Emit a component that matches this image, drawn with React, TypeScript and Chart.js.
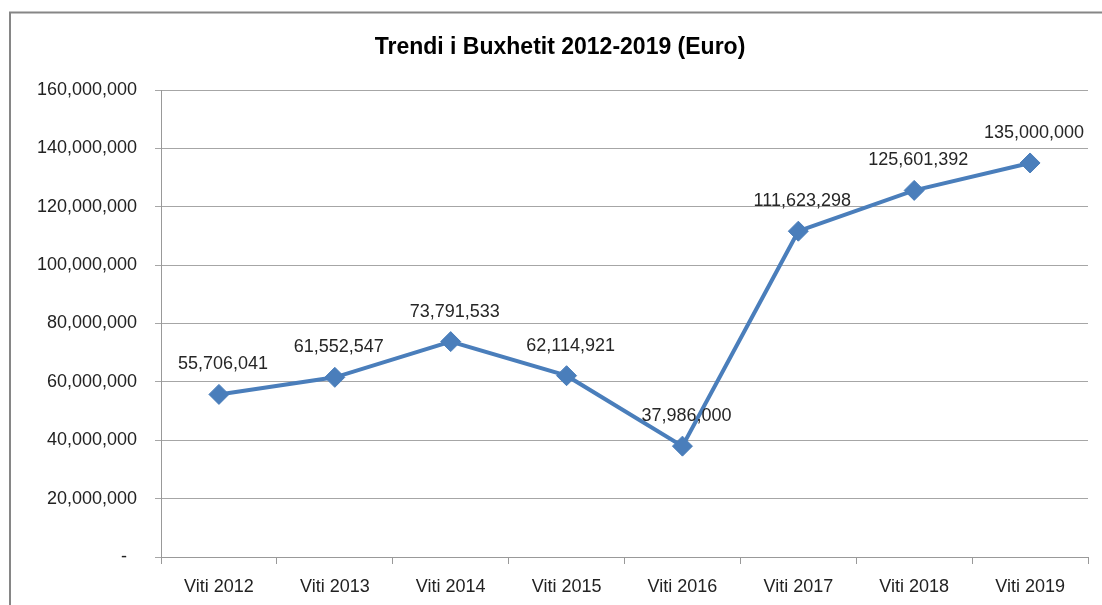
import React, { useEffect, useRef } from 'react';
import { Chart, registerables } from 'chart.js';

Chart.register(...registerables);

const chartTitle = 'Trendi i Buxhetit 2012-2019 (Euro)';
const categories = ['Viti 2012', 'Viti 2013', 'Viti 2014', 'Viti 2015', 'Viti 2016', 'Viti 2017', 'Viti 2018', 'Viti 2019'];
const budgetValues = [55706041, 61552547, 73791533, 62114921, 37986000, 111623298, 125601392, 135000000];
const yMin = 0;
const yMax = 160000000;
const yStep = 20000000;

const FONT = "'Liberation Sans', Arial, sans-serif";
const fmt = (v: number) => Math.round(v).toLocaleString('en-US');

export default function App() {
  const ref = useRef<HTMLCanvasElement | null>(null);

  useEffect(() => {
    document.body.style.margin = '0';
    if (!ref.current) return;

    const framePlugin = {
      id: 'frameAndLabels',
      beforeDraw(chart: any) {
        const ctx = chart.ctx;
        ctx.save();
        ctx.fillStyle = '#ffffff';
        ctx.fillRect(0, 0, chart.width, chart.height);
        ctx.strokeStyle = '#868686';
        ctx.lineWidth = 2;
        ctx.strokeRect(10, 12.5, chart.width + 50, chart.height + 50);
        ctx.restore();
      },
      afterDatasetsDraw(chart: any) {
        const ctx = chart.ctx;
        ctx.save();
        ctx.fillStyle = '#000000';
        ctx.font = `bold 23px ${FONT}`;
        ctx.textAlign = 'center';
        ctx.textBaseline = 'middle';
        ctx.fillText(chartTitle, 560, 48);

        const meta = chart.getDatasetMeta(0);
        const data = chart.data.datasets[0].data as number[];
        ctx.font = `18px ${FONT}`;
        ctx.fillStyle = '#262626';
        meta.data.forEach((el: any, i: number) => {
          ctx.fillText(fmt(data[i]), el.x + 4, el.y - 30);
        });
        ctx.restore();
      },
    };

    const chart = new Chart(ref.current, {
      type: 'line',
      data: {
        labels: categories,
        datasets: [
          {
            data: budgetValues,
            borderColor: '#4A7EBB',
            backgroundColor: '#4A7EBB',
            borderWidth: 4,
            pointStyle: 'rectRot',
            pointRadius: 10,
            pointBorderWidth: 1,
            pointBorderColor: '#4A7EBB',
            pointBackgroundColor: '#4A7EBB',
            tension: 0,
          },
        ],
      },
      options: {
        responsive: false,
        animation: false,
        layout: { padding: { top: 90, right: 14, left: 0, bottom: 0 } },
        plugins: {
          legend: { display: false },
          title: { display: false },
          tooltip: { enabled: false },
        },
        scales: {
          x: {
            offset: true,
            grid: { offset: true, drawOnChartArea: false, tickLength: 7, color: '#999999' },
            border: { color: '#999999' },
            ticks: { font: { family: FONT, size: 18 }, color: '#222222', padding: 12, maxRotation: 0 },
            afterFit: (s: any) => {
              s.height = 48;
            },
          },
          y: {
            min: yMin,
            max: yMax,
            ticks: {
              stepSize: yStep,
              font: { family: FONT, size: 18 },
              color: '#222222',
              padding: 18,
              callback: (v: any) => (Number(v) === 0 ? '-  ' : fmt(Number(v))),
            },
            grid: { tickLength: 6, color: '#a6a6a6' },
            border: { color: '#999999' },
            afterFit: (s: any) => {
              s.width = 161;
            },
          },
        },
      },
      plugins: [framePlugin],
    });

    return () => chart.destroy();
  }, []);

  return (
    <div style={{ width: 1102, height: 605 }}>
      <canvas ref={ref} width={1102} height={605} style={{ display: 'block' }} />
    </div>
  );
}
